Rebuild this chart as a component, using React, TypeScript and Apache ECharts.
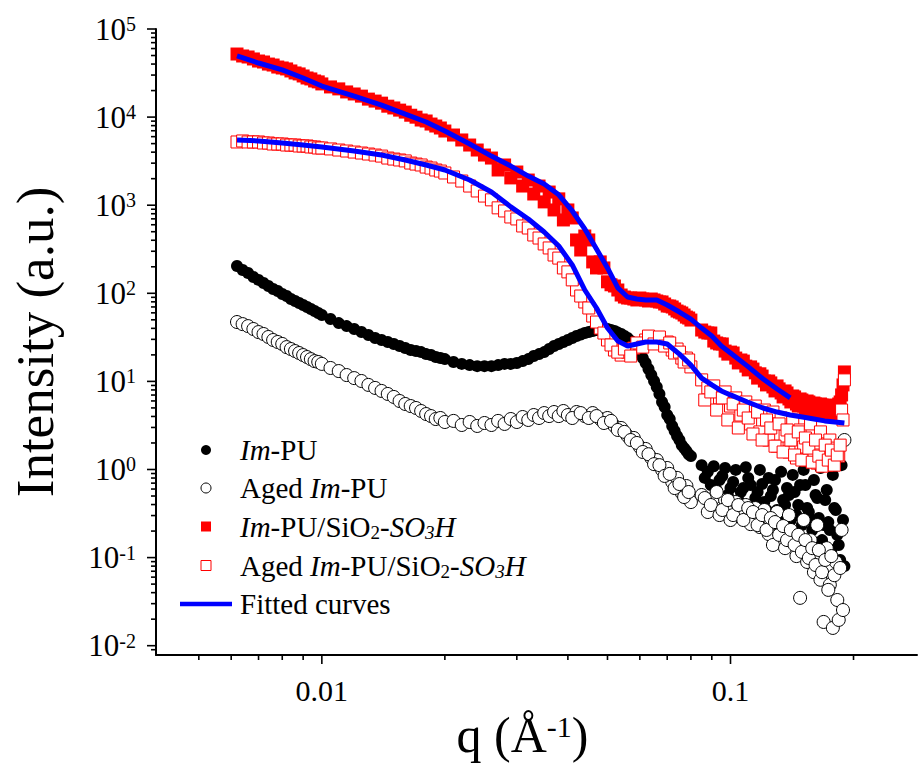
import React, { useEffect, useRef } from 'react';
import * as echarts from 'echarts';

const FONT = '"Liberation Serif", "Times New Roman", serif';

// shared q grid (Å^-1)
const q = [
  0.0062, 0.0064, 0.0066, 0.0068, 0.0070, 0.0072, 0.0074, 0.0076, 0.0078, 0.0080,
  0.0082, 0.0084, 0.0086, 0.0088, 0.0090, 0.0092, 0.0094, 0.0096, 0.0098, 0.0100,
  0.0105, 0.0110, 0.0115, 0.0120, 0.0125, 0.0130, 0.0135, 0.0140, 0.0145, 0.0150,
  0.0155, 0.0160, 0.0165, 0.0170, 0.0175, 0.0180, 0.0185, 0.0190, 0.0195, 0.0200,
  0.021, 0.022, 0.023, 0.024, 0.025, 0.026, 0.027, 0.028, 0.029, 0.030,
  0.031, 0.032, 0.033, 0.034, 0.035, 0.036, 0.037, 0.038, 0.039, 0.040,
  0.042, 0.044, 0.046, 0.048, 0.050, 0.052, 0.054, 0.056, 0.058, 0.060,
  0.062, 0.064, 0.066, 0.068, 0.070, 0.072, 0.074, 0.076, 0.078, 0.080,
  0.085, 0.088, 0.091, 0.094, 0.097, 0.100, 0.103, 0.106, 0.109, 0.112,
  0.115, 0.118, 0.121, 0.124, 0.127, 0.130, 0.133, 0.136, 0.139, 0.142,
  0.145, 0.148, 0.151, 0.154, 0.157, 0.160, 0.163, 0.166, 0.169, 0.172,
  0.175, 0.178, 0.181, 0.184, 0.187, 0.190,
];
// interleaved q grid for the steep middle region
const qMid = [
  0.041, 0.043, 0.045, 0.047, 0.049, 0.051, 0.053, 0.055, 0.057, 0.059,
  0.061, 0.063, 0.065, 0.067, 0.069, 0.071, 0.073, 0.075, 0.077, 0.079,
];
// interleaved q grid for the noisy high-q tail
const qTail = [
  0.0865, 0.0895, 0.0925, 0.0955, 0.0985, 0.1015, 0.1045, 0.1075, 0.1105, 0.1135,
  0.1165, 0.1195, 0.1225, 0.1255, 0.1285, 0.1315, 0.1345, 0.1375, 0.1405, 0.1435,
  0.1465, 0.1495, 0.1525, 0.1555, 0.1585, 0.1615, 0.1645, 0.1675, 0.1705, 0.1735,
  0.1765, 0.1795, 0.1825, 0.1855, 0.1885,
];

// Im-PU (filled black circles)
const imPU = [
  204, 184, 170, 153, 142, 131, 121, 112, 106, 98.1, 93.1, 86.1, 81.8, 77.6, 73.7, 69.9, 66.4, 62.9, 59.7, 56.7,
  51.0, 45.9, 42.4, 39.3, 36.3, 33.6, 31.1, 29.5, 28.0, 26.6, 25.2, 23.9, 22.7, 22.1, 21.5, 20.4, 19.9, 18.9, 18.4, 17.9,
  16.6, 15.8, 15.3, 14.9, 14.9, 14.9, 15.3, 15.8, 15.8, 16.2, 17.0, 17.9, 19.4, 20.4, 21.5, 23.3, 25.2, 26.6, 28.0, 29.5,
  32.7, 35.4, 37.3, 39.3, 39.3, 37.3, 34.5, 31.1, 25.9, 21.0, 16.2, 11.8, 8.65, 5.84, 4.15, 3.12, 2.40, 1.89, 1.62, 1.42,
  1.12, 0.94, 1.09, 0.76, 1.04, 0.616, 0.99, 0.555, 1.06, 0.667, 0.474, 0.99, 0.427, 0.803, 0.585, 0.347, 0.94, 0.395,
  0.513, 0.868, 0.304, 0.667, 0.99, 0.365, 0.267, 0.76, 0.474, 1.04, 0.234, 0.585, 0.206, 0.868, 0.347, 0.139, 1.12, 0.080,
];
const imPUMid = [
  31.1, 34.0, 36.3, 38.3, 39.3, 38.3, 35.8, 32.7, 28.7, 23.3, 18.4, 13.8, 10.1, 7.2, 5.12, 3.74, 2.74, 2.16, 1.75, 1.49,
];
const imPUTail = [
  0.803, 0.667, 0.585, 0.845, 0.513, 0.721, 0.45, 0.616, 0.803, 0.395, 0.555, 0.684, 0.347, 0.50, 0.76, 0.304, 0.45, 0.616,
  0.267, 0.555, 0.395, 0.234, 0.667, 0.329, 0.206, 0.513, 0.281, 0.158, 0.45, 0.253, 0.122, 0.365, 0.181, 0.094, 0.267,
];

// Aged Im-PU (open black circles)
const agedImPU = [
  47.2, 44.7, 42.4, 39.3, 36.3, 34.5, 31.9, 29.5, 28.0, 26.6, 24.5, 23.3, 22.1, 21.0, 19.9, 18.9, 17.9, 17.0, 16.6, 15.8,
  14.2, 13.1, 11.8, 10.9, 10.1, 9.12, 8.43, 7.79, 7.2, 6.66, 5.99, 5.54, 5.25, 4.99, 4.61, 4.26, 4.04, 3.74, 3.84, 3.46,
  3.56, 3.20, 3.46, 3.12, 3.37, 3.20, 3.56, 3.29, 3.74, 3.46, 3.94, 3.65, 4.15, 3.84, 4.37, 4.04, 4.49, 4.04, 4.61, 4.15,
  4.49, 4.04, 4.37, 3.74, 3.84, 3.12, 2.96, 2.40, 2.28, 1.80, 1.71, 1.35, 1.28, 0.99, 1.04, 0.721, 0.803, 0.541, 0.649, 0.427,
  0.513, 0.329, 0.474, 0.304, 0.45, 0.267, 0.427, 0.296, 0.395, 0.240, 0.365, 0.222, 0.347, 0.185, 0.139, 0.329, 0.206, 0.128,
  0.304, 0.167, 0.104, 0.0349, 0.267, 0.0892, 0.158, 0.0683, 0.234, 0.056, 0.0186, 0.128, 0.0491, 0.0159, 0.0892, 0.0196, 0.206, 2.16,
];
const agedImPUMid = [
  3.84, 4.37, 3.84, 4.04, 3.37, 3.56, 2.81, 2.67, 2.16, 2.00, 1.58, 1.49, 1.15, 1.12, 0.845, 0.891, 0.616, 0.684, 0.487, 0.555,
];
const agedImPUTail = [
  0.474, 0.395, 0.555, 0.347, 0.45, 0.304, 0.395, 0.267, 0.365, 0.329, 0.234, 0.304, 0.206, 0.281, 0.253, 0.181, 0.228, 0.158,
  0.206, 0.139, 0.181, 0.116, 0.158, 0.099, 0.128, 0.0824, 0.122, 0.0683, 0.094, 0.043, 0.104, 0.0631, 0.033, 0.0762, 0.0254,
];

// Im-PU/SiO2-SO3H (filled red squares)
const imPUSi = [
  52000, 49400, 48100, 45700, 43300, 42200, 40000, 39000, 37000, 36100, 35200, 33400, 31700, 30900, 29300, 27800, 27100, 25700, 25100, 23800,
  22000, 20900, 19300, 18300, 17300, 16000, 15200, 14400, 13300, 12700, 12000, 11400, 10500, 9980, 9270, 9030, 8340, 7920, 7520, 6950,
  6260, 5500, 4820, 4230, 3710, 3430, 2510, 2860, 2040, 2380, 1650, 1930, 1340, 1650, 1090, 1410, 883, 1180, 680, 883,
  403, 447, 227, 227, 135, 121, 95.6, 88.4, 86.1, 88.4, 84, 86.1, 81.8, 79.7, 71.7, 69.9, 62.9, 59.7, 53.7, 49.7,
  38.3, 35.4, 28.7, 26.6, 22.1, 21.5, 18.4, 17.5, 14.9, 14.6, 12.5, 12.2, 10.1, 10.1, 8.65, 8.88, 7.39, 7.79,
  6.32, 6.83, 5.54, 6.32, 5.25, 5.99, 4.99, 5.68, 4.73, 5.54, 4.61, 5.39, 4.49, 5.25, 4.73, 5.54, 7.02, 12.8,
];
const imPUSiMid = [
  716, 310, 403, 194, 194, 125, 109, 90.7, 88.4, 84, 86.1, 81.8, 84, 79.7, 75.6, 71.7, 66.4, 61.3, 56.7, 52.4,
];
const imPUSiTail = [
  36.3, 35.4, 27.3, 26.6, 20.4, 21.0, 16.2, 17.0, 13.5, 13.8, 10.9, 11.5, 9.12, 9.61, 7.79, 8.22, 6.66, 7.39,
  5.84, 6.66, 5.25, 6.15, 4.86, 5.84, 4.61, 5.54, 4.37, 5.39, 4.26, 5.25, 4.26, 5.12, 4.49, 5.84, 9.12,
];

// Aged Im-PU/SiO2-SO3H (open red squares)
const agedImPUSi = [
  5220, 5360, 5220, 5220, 5220, 5080, 5080, 4950, 4950, 4950, 4820, 4820, 4820, 4700, 4700, 4700, 4580, 4580, 4460, 4460,
  4350, 4230, 4120, 4010, 3910, 3810, 3710, 3610, 3430, 3340, 3260, 3180, 3010, 2930, 2860, 2710, 2640, 2510, 2440, 2320,
  2090, 1880, 1650, 1450, 1270, 1150, 933, 860, 735, 698, 581, 551, 459, 424, 363, 327, 272, 251, 194, 175,
  109, 79.7, 55.2, 40.3, 29.5, 22.7, 19.9, 21.5, 23.9, 26.6, 29.5, 28.0, 31.1, 27.3, 28.0, 22.7, 23.3, 18.4, 18.4, 14.6,
  10.4, 8.43, 8.88, 6.49, 7.59, 5.25, 6.49, 4.15, 5.84, 3.29, 5.25, 2.67, 4.73, 2.16, 4.49, 1.84, 3.84, 2.40,
  1.58, 3.65, 1.35, 2.81, 1.80, 1.28, 3.29, 1.46, 1.18, 2.67, 1.35, 1.12, 2.16, 1.21, 1.75, 1.42, 4.73, 10.4,
];
const agedImPUSiMid = [
  142, 93.1, 68.1, 47.2, 35.4, 25.9, 21.5, 23.3, 19.4, 27.3, 24.5, 32.7, 26.6, 31.9, 25.2, 27.3, 21.0, 21.5, 16.6, 17.5,
];
const agedImPUSiTail = [
  6.15, 7.59, 4.73, 6.49, 3.65, 5.54, 2.96, 4.73, 3.84, 2.53, 4.49, 2.16, 3.65, 2.96, 1.84, 3.29, 1.58, 2.81,
  2.16, 1.46, 2.67, 1.28, 2.28, 1.75, 1.21, 2.16, 1.42, 1.09, 1.89, 1.28, 1.66, 1.12, 1.46, 1.89, 3.65,
];

// fitted curves
const qFit = [
  0.0062, 0.007, 0.008, 0.009, 0.010, 0.012, 0.014, 0.016, 0.018, 0.020,
  0.023, 0.026, 0.029, 0.032, 0.035, 0.038, 0.041, 0.044, 0.047, 0.050,
  0.053, 0.056, 0.059, 0.062, 0.066, 0.070, 0.075, 0.080, 0.085, 0.090,
  0.095, 0.100, 0.110, 0.120, 0.130, 0.140, 0.150, 0.160, 0.170, 0.180, 0.190,
];
const fitImPUSi = [
  49400, 41100, 34300, 27800, 22500, 17300, 13700, 10800, 8800, 6950,
  4950, 3610, 2780, 2140, 1740, 1310, 860, 537, 318, 194,
  115, 90.7, 86.1, 84, 84, 73.7, 61.3, 51.0, 40.3, 32.7,
  25.2, 21.0, 14.9, 10.7, 8.2, 6.49,
];
const fitAgedImPUSi = [
  5500, 5360, 5080, 4820, 4580, 4120, 3710, 3260, 2860, 2510,
  1930, 1410, 957, 698, 496, 344, 210, 109, 68.1, 40.3,
  28.7, 25.2, 26.6, 28.0, 28.0, 26.6, 20.4, 15.3, 10.9, 9.12,
  7.79, 7.02, 5.84, 4.99, 4.49, 4.15, 3.94, 3.74, 3.56, 3.46, 3.37,
];

// axes
const X_MIN = 0.003928;
const X_MAX = 0.286;
const Y_MIN = 0.00784;
const Y_MAX = 100000;
const xMajorTicks = [0.01, 0.1];
const xTickLabels = ['0.01', '0.1'];
const xMinorTicks = [0.005, 0.006, 0.007, 0.008, 0.009, 0.02, 0.03, 0.04, 0.05, 0.06, 0.07, 0.08, 0.09, 0.2];
const yMajorTicks = [0.01, 0.1, 1, 10, 100, 1000, 10000, 100000];
const yMinorMantissas = [2, 3, 4, 5, 6, 7, 8, 9];

const seriesNames = ['Im-PU', 'Aged Im-PU', 'Im-PU/SiO2-SO3H', 'Aged Im-PU/SiO2-SO3H', 'Fitted curves'];
const legendRich: Record<string, string> = {
  'Im-PU': '{i|Im}-PU',
  'Aged Im-PU': 'Aged {i|Im}-PU',
  'Im-PU/SiO2-SO3H': '{i|Im}-PU/SiO{s|2}-{i|SO}{si|3}{i|H}',
  'Aged Im-PU/SiO2-SO3H': 'Aged {i|Im}-PU/SiO{s|2}-{i|SO}{si|3}{i|H}',
  'Fitted curves': 'Fitted curves',
};

export default function App() {
  const ref = useRef<HTMLDivElement>(null);
  useEffect(() => {
    if (!ref.current) return;
    const chart = echarts.init(ref.current, null, { renderer: 'svg' });
    const pairs = (xs: number[], ys: number[]) => ys.map((y, i) => [xs[i], y]);
    const allPairs = (main: number[], mid: number[], tail: number[]) =>
      pairs(q, main).concat(pairs(qMid, mid), pairs(qTail, tail));
    const yMinorTicks = [0.009].concat(
      yMajorTicks.slice(0, -1).flatMap((d) => yMinorMantissas.map((m) => Number((m * d).toPrecision(3))))
    );
    const isPow = (v: number) => {
      const e = Math.log10(v);
      return Math.abs(e - Math.round(e)) < 1e-6;
    };
    const tickSeries = (axis: 'x' | 'y', data: number[][]) => ({
      type: 'custom',
      coordinateSystem: 'cartesian2d',
      silent: true,
      clip: false,
      z: 20,
      tooltip: { show: false },
      renderItem: (_p: any, api: any) => {
        const pt = api.coord([api.value(0), api.value(1)]);
        const len = api.value(2);
        const shape =
          axis === 'x'
            ? { x1: pt[0], y1: pt[1], x2: pt[0], y2: pt[1] + len }
            : { x1: pt[0], y1: pt[1], x2: pt[0] - len, y2: pt[1] };
        return { type: 'line', shape, style: { stroke: '#000', lineWidth: 1.6 } };
      },
      data,
    });
    const serif = { fontFamily: FONT, color: '#000' };

    const option: any = {
      animation: false,
      backgroundColor: '#fff',
      grid: { left: 149, top: 29, width: 771, height: 626, containLabel: false },
      xAxis: {
        type: 'log',
        logBase: 10,
        min: X_MIN,
        max: X_MAX,
        name: '{n|q (Å}{s|-1}{n|)}',
        nameLocation: 'middle',
        nameGap: 55,
        nameTextStyle: {
          ...serif,
          fontSize: 50,
          padding: [0, 28, 0, 0],
          rich: {
            n: { ...serif, fontSize: 50, lineHeight: 50 },
            s: { ...serif, fontSize: 30, lineHeight: 50, padding: [0, 0, 18, 0] },
          },
        },
        axisLine: { show: true, lineStyle: { color: '#000', width: 2 } },
        axisTick: { show: false },
        minorTick: { show: false },
        splitLine: { show: false },
        minorSplitLine: { show: false },
        axisLabel: {
          ...serif,
          fontSize: 30,
          margin: 20,
          formatter: (v: number) => {
            if (!isPow(v)) return '';
            const idx = xMajorTicks.findIndex((t) => Math.abs(Math.log10(t) - Math.log10(v)) < 1e-6);
            return idx >= 0 ? xTickLabels[idx] : '';
          },
        },
      },
      yAxis: {
        type: 'log',
        logBase: 10,
        min: Y_MIN,
        max: Y_MAX,
        name: 'Intensity (a.u.)',
        nameLocation: 'middle',
        nameGap: 95,
        nameTextStyle: { ...serif, fontSize: 53 },
        axisLine: { show: true, lineStyle: { color: '#000', width: 2 } },
        axisTick: { show: false },
        minorTick: { show: false },
        splitLine: { show: false },
        minorSplitLine: { show: false },
        axisLabel: {
          ...serif,
          fontSize: 31,
          margin: 20,
          formatter: (v: number) => {
            if (!isPow(v)) return '';
            return `{b|10}{s|${Math.round(Math.log10(v))}}`;
          },
          rich: {
            b: { ...serif, fontSize: 31, lineHeight: 31 },
            s: { ...serif, fontSize: 20, lineHeight: 31, padding: [0, 0, 10, 0] },
          },
        },
      },
      legend: {
        orient: 'vertical',
        left: 180,
        top: 435,
        padding: 0,
        itemGap: 8,
        itemWidth: 52,
        itemHeight: 10,
        symbolKeepAspect: true,
        selectedMode: false,
        formatter: (name: string) => legendRich[name] ?? name,
        textStyle: {
          ...serif,
          fontSize: 29,
          lineHeight: 30,
          padding: [0, 0, 0, 3],
          rich: {
            i: { ...serif, fontSize: 29, lineHeight: 30, fontStyle: 'italic' },
            s: { ...serif, fontSize: 19, lineHeight: 30, padding: [12, 0, 0, 0] },
            si: { ...serif, fontSize: 19, lineHeight: 30, fontStyle: 'italic', padding: [12, 0, 0, 0] },
          },
        },
        data: [
          { name: seriesNames[0], icon: 'circle', itemStyle: { color: '#000', borderWidth: 0 } },
          { name: seriesNames[1], icon: 'circle', itemStyle: { color: '#fff', borderColor: '#000', borderWidth: 1 } },
          { name: seriesNames[2], icon: 'path://M0,0L10,0L10,10L0,10Z', itemStyle: { color: '#ff0000', borderWidth: 0 } },
          { name: seriesNames[3], icon: 'path://M0,0L10,0L10,10L0,10Z', itemStyle: { color: '#fff', borderColor: '#ff0000', borderWidth: 1 } },
          { name: seriesNames[4], icon: 'path://M0,0L52,0L52,4.5L0,4.5Z', itemStyle: { color: '#0000ff', borderWidth: 0 } },
        ],
      },
      series: [
        {
          name: seriesNames[0],
          type: 'scatter',
          data: allPairs(imPU, imPUMid, imPUTail),
          symbol: 'circle',
          symbolSize: 12,
          itemStyle: { color: '#000', opacity: 1 },
          emphasis: { disabled: true },
        },
        {
          name: seriesNames[1],
          type: 'scatter',
          data: allPairs(agedImPU, agedImPUMid, agedImPUTail),
          symbol: 'circle',
          symbolSize: 13,
          itemStyle: { color: '#fff', borderColor: '#000', borderWidth: 1, opacity: 1 },
          emphasis: { disabled: true },
        },
        {
          name: seriesNames[2],
          type: 'scatter',
          data: allPairs(imPUSi, imPUSiMid, imPUSiTail),
          symbol: 'rect',
          symbolSize: 13,
          itemStyle: { color: '#ff0000', opacity: 1 },
          emphasis: { disabled: true },
        },
        {
          name: seriesNames[3],
          type: 'scatter',
          data: allPairs(agedImPUSi, agedImPUSiMid, agedImPUSiTail),
          symbol: 'rect',
          symbolSize: 12,
          itemStyle: { color: '#fff', borderColor: '#ff0000', borderWidth: 1, opacity: 1 },
          emphasis: { disabled: true },
        },
        {
          name: seriesNames[4],
          type: 'line',
          data: pairs(qFit, fitImPUSi),
          symbol: 'none',
          showSymbol: false,
          lineStyle: { color: '#0000ff', width: 5 },
          itemStyle: { color: '#0000ff' },
          emphasis: { disabled: true },
          z: 5,
        },
        {
          name: seriesNames[4],
          type: 'line',
          data: pairs(qFit, fitAgedImPUSi),
          symbol: 'none',
          showSymbol: false,
          lineStyle: { color: '#0000ff', width: 5 },
          itemStyle: { color: '#0000ff' },
          emphasis: { disabled: true },
          z: 5,
        },
        tickSeries('x', [
          ...xMajorTicks.map((v) => [v, Y_MIN, 9]),
          ...xMinorTicks.map((v) => [v, Y_MIN, 5]),
        ]),
        tickSeries('y', [
          ...yMajorTicks.map((v) => [X_MIN, v, 9]),
          ...yMinorTicks.map((v) => [X_MIN, v, 5]),
        ]),
      ],
    };
    chart.setOption(option);
    return () => chart.dispose();
  }, []);
  return (
    <div
      ref={ref}
      style={{ position: 'fixed', left: 0, top: 0, width: 920, height: 771, background: '#fff' }}
    />
  );
}
